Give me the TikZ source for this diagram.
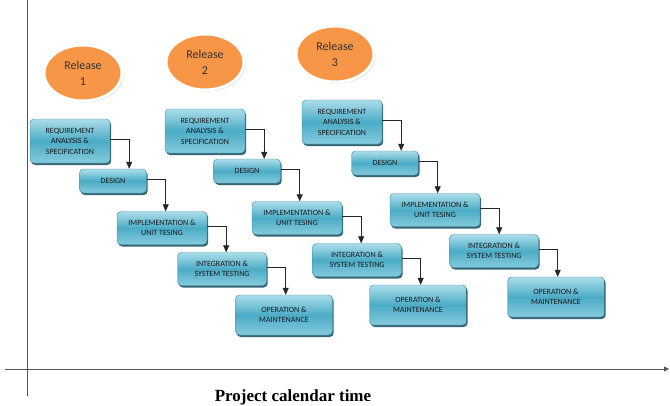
\documentclass[tikz,border=0pt]{standalone}
\usepackage{fontspec}
\setmainfont{Carlito}
\newfontfamily\axisfont{Liberation Serif}
\usepackage{tikz}
\usetikzlibrary{shapes}
\usetikzlibrary{shadows}
\usetikzlibrary{arrows.meta}

\definecolor{relorange}{HTML}{F79646}
\definecolor{boxtop}{HTML}{ACDDEA}
\definecolor{boxmid}{HTML}{4BACC6}
\definecolor{boxbot}{HTML}{86CADC}
\definecolor{boxline}{HTML}{3B8CA3}
\definecolor{boxshadow}{HTML}{1F5566}
\definecolor{axisgray}{HTML}{555555}

\tikzset{
  release/.style={ellipse, fill=relorange, draw=white, line width=3pt,
    minimum width=78pt, minimum height=56pt, inner sep=0pt, align=center,
    text=black!80, font=\fontsize{12}{16}\selectfont,
    drop shadow={shadow xshift=1.5pt, shadow yshift=-1.5pt, fill=black!30, opacity=.6}},
  phase/.style={rectangle, rounded corners=4pt, draw=boxline, line width=.4pt,
    top color=boxtop, bottom color=boxbot, middle color=boxmid,
    inner sep=0pt, align=center, text=black!90,
    font=\fontsize{8}{10.5}\selectfont,
    drop shadow={shadow xshift=1.2pt, shadow yshift=-2pt, fill=boxshadow, opacity=.9}},
  reqbox/.style={phase, minimum width=80pt, minimum height=44pt},
  desbox/.style={phase, minimum width=67pt, minimum height=24pt},
  impbox/.style={phase, minimum width=90pt, minimum height=33pt},
  intbox/.style={phase, minimum width=89pt, minimum height=33pt},
  opbox/.style={phase, minimum width=97pt, minimum height=40pt},
  flow/.style={draw=black!85, line width=.8pt, -{Triangle[width=6pt,length=7pt]}}
}

\begin{document}
\begin{tikzpicture}[x=1pt,y=-1pt]
\useasboundingbox (0,0) rectangle (670,405);

\draw[axisgray, line width=.8pt] (27,0) -- (27,396);
\draw[axisgray, line width=.8pt, -{Triangle[width=5pt,length=5pt]}] (5,369) -- (669,369);
\node[font=\axisfont\bfseries\fontsize{17}{20}\selectfont, anchor=base] (axislabel) at (293,401) {Project calendar time};

\node[release] (rel1) at (83,73) {Release\\1};
\node[release] (rel2) at (205,62) {Release\\2};
\node[release] (rel3) at (335,54) {Release\\3};

\node[reqbox] (req1) at (70,141) {REQUIREMENT\\ANALYSIS \&\\SPECIFICATION};
\node[desbox] (des1) at (113,181) {DESIGN};
\node[impbox] (imp1) at (162,228) {IMPLEMENTATION \&\\UNIT TESING};
\node[intbox] (int1) at (222,269) {INTEGRATION \&\\SYSTEM TESTING};
\node[opbox] (op1) at (284,315) {OPERATION \&\\MAINTENANCE};

\node[reqbox] (req2) at (205,131) {REQUIREMENT\\ANALYSIS \&\\SPECIFICATION};
\node[desbox] (des2) at (247,171) {DESIGN};
\node[impbox] (imp2) at (297,218) {IMPLEMENTATION \&\\UNIT TESING};
\node[intbox] (int2) at (357,260) {INTEGRATION \&\\SYSTEM TESTING};
\node[opbox] (op2) at (418,305) {OPERATION \&\\MAINTENANCE};

\node[reqbox] (req3) at (342,122) {REQUIREMENT\\ANALYSIS \&\\SPECIFICATION};
\node[desbox] (des3) at (385,163) {DESIGN};
\node[impbox] (imp3) at (435,210) {IMPLEMENTATION \&\\UNIT TESING};
\node[intbox] (int3) at (494,251) {INTEGRATION \&\\SYSTEM TESTING};
\node[opbox] (op3) at (556,297) {OPERATION \&\\MAINTENANCE};

\foreach \r in {1,2,3} {
  \draw[flow] ([yshift=2pt]req\r.east) -| ([xshift=19pt]req\r.east |- des\r.north);
  \draw[flow] ([yshift=2pt]des\r.east) -| ([xshift=19pt]des\r.east |- imp\r.north);
  \draw[flow] ([yshift=2pt]imp\r.east) -| ([xshift=19pt]imp\r.east |- int\r.north);
  \draw[flow] ([yshift=2pt]int\r.east) -| ([xshift=19pt]int\r.east |- op\r.north);
}
\end{tikzpicture}
\end{document}
